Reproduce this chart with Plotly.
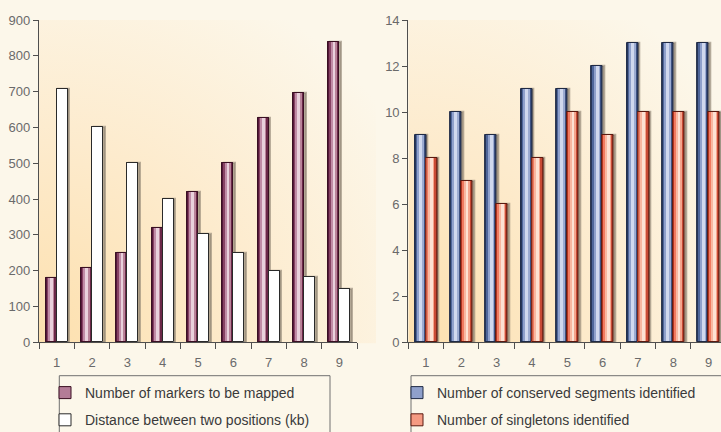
import base64
import plotly.graph_objects as go
from plotly.subplots import make_subplots

# ---- data -------------------------------------------------------------
positions = ["1", "2", "3", "4", "5", "6", "7", "8", "9"]
markers_to_map = [180, 207, 250, 318, 419, 502, 627, 696, 838]
distance_kb = [708, 600, 502, 401, 302, 250, 200, 181, 148]
conserved_segments = [9, 10, 9, 11, 11, 12, 13, 13, 13]
singletons = [8, 7, 6, 8, 10, 9, 10, 10, 10]

left_ticks = [0, 100, 200, 300, 400, 500, 600, 700, 800, 900]
right_ticks = [0, 2, 4, 6, 8, 10, 12, 14]

# ---- styling ----------------------------------------------------------
W, H = 721, 432
PAGE_BG = "#fcf7ea"
AXIS = "#4f4f4f"
TICK_FONT = dict(family="Liberation Sans, Arial, sans-serif", size=13, color="#6a6a6a")
LEG_FONT = dict(family="Liberation Sans, Arial, sans-serif", size=14, color="#3a3a3a")
BAR_W = 0.31
SHADOW = "rgba(140,128,112,0.6)"

# vertical shading bands (fraction of bar width, colour) giving a rounded look
MAROON = [(0.00, 0.12, "#55183a"), (0.12, 0.24, "#874263"), (0.24, 0.38, "#c08ca6"),
          (0.38, 0.68, "#e9d1dc"), (0.68, 0.84, "#b98399"), (0.84, 1.00, "#6b2848")]
BLUE = [(0.00, 0.12, "#2c3c63"), (0.12, 0.26, "#4f669a"), (0.26, 0.40, "#8fa0cb"),
        (0.40, 0.70, "#d0d8ee"), (0.70, 0.85, "#9cabd1"), (0.85, 1.00, "#3e5283")]
RED = [(0.00, 0.12, "#d8402a"), (0.12, 0.28, "#f07a60"), (0.28, 0.44, "#f8b7a1"),
       (0.44, 0.70, "#fde1d3"), (0.70, 0.85, "#f4a48c"), (0.85, 1.00, "#c94a35")]
WHITE = [(0.00, 1.00, "#ffffff")]

SERIES = [
    # (subplot column, name, values, side, bands, edge, legend fill, legend)
    (1, "Number of markers to be mapped", markers_to_map, "left", MAROON, "#3a0f22", "#b47c97", "legend"),
    (1, "Distance between two positions (kb)", distance_kb, "right", WHITE, "#2a2a2a", "#ffffff", "legend"),
    (2, "Number of conserved segments identified", conserved_segments, "left", BLUE, "#1f2a45", "#8fa0cb", "legend2"),
    (2, "Number of singletons identified", singletons, "right", RED, "#5a1a10", "#f59a82", "legend2"),
]


def bar_start(side):
    return -BAR_W if side == "left" else 0.0


def add_shadow(fig, col, name, y, side, legend):
    """Soft grey drop shadow up and to the right of each bar."""
    fig.add_trace(go.Bar(x=positions, y=y, name=name, width=BAR_W,
                         offset=bar_start(side) + 0.045,
                         marker=dict(color=SHADOW, line=dict(color=SHADOW, width=2.2)),
                         legend=legend, legendgroup=name, showlegend=False,
                         hoverinfo="skip"),
                  row=1, col=col)


def add_cylinder(fig, col, name, y, side, bands, edge, base_fill, legend):
    """Bar series drawn as a base bar, shaded bands on top, then an outline."""
    start = bar_start(side)
    fig.add_trace(go.Bar(x=positions, y=y, name=name, width=BAR_W, offset=start,
                         marker=dict(color=base_fill, line=dict(color=edge, width=1)),
                         legend=legend, legendgroup=name, showlegend=True),
                  row=1, col=col)
    for f0, f1, c in bands:
        fig.add_trace(go.Bar(x=positions, y=y, name=name,
                             width=BAR_W * (f1 - f0) + 0.004, offset=start + BAR_W * f0,
                             marker=dict(color=c, line=dict(width=0)),
                             legend=legend, legendgroup=name, showlegend=False,
                             hoverinfo="skip"),
                      row=1, col=col)
    fig.add_trace(go.Bar(x=positions, y=y, name=name, width=BAR_W, offset=start,
                         marker=dict(color="rgba(0,0,0,0)", line=dict(color=edge, width=1)),
                         legend=legend, legendgroup=name, showlegend=False),
                  row=1, col=col)


fig = make_subplots(rows=1, cols=2)

for col, name, vals, side, bands, edge, fill, leg in SERIES:
    add_shadow(fig, col, name, vals, side, leg)
for col, name, vals, side, bands, edge, fill, leg in SERIES:
    add_cylinder(fig, col, name, vals, side, bands, edge, fill, leg)

# plot areas in pixels
L_X0, L_X1 = 39, 357
R_X0 = 408.3
CAT_PX = (L_X1 - L_X0) / 9.0
Y_TOP, Y_BOT = 20, 342.3
ydom = [(H - Y_BOT) / H, (H - Y_TOP) / H]

xaxis_common = dict(type="category", tickson="boundaries", ticks="outside", ticklen=6,
                    tickcolor=AXIS, tickwidth=1, showline=True, linecolor=AXIS,
                    linewidth=1.2, showgrid=False, zeroline=False, tickfont=TICK_FONT,
                    ticklabelstandoff=8, fixedrange=True, automargin=False)
yaxis_common = dict(ticks="outside", ticklen=5, tickcolor=AXIS, tickwidth=1,
                    showline=True, linecolor=AXIS, linewidth=1.2, showgrid=False,
                    zeroline=False, tickfont=TICK_FONT, domain=ydom, fixedrange=True,
                    automargin=False)

right_span = (W - R_X0) / CAT_PX
fig.update_layout(
    xaxis=dict(xaxis_common, domain=[L_X0 / W, L_X1 / W], range=[-0.5, 8.5]),
    xaxis2=dict(xaxis_common, domain=[R_X0 / W, 1.0], range=[-0.5, -0.5 + right_span]),
    yaxis=dict(yaxis_common, range=[0, 900], tickvals=left_ticks),
    yaxis2=dict(yaxis_common, range=[0, 14], tickvals=right_ticks),
)

# warm radial wash behind each plot area
svg = (
    '<svg xmlns="http://www.w3.org/2000/svg" width="400" height="400" '
    'viewBox="0 0 400 400" preserveAspectRatio="none">'
    '<defs><radialGradient id="g" cx="0" cy="1" r="1.25" fx="0" fy="1">'
    '<stop offset="0" stop-color="#fde0ae"/>'
    '<stop offset="0.5" stop-color="#fdebcd"/>'
    '<stop offset="1" stop-color="' + PAGE_BG + '"/>'
    '</radialGradient></defs>'
    '<rect x="0" y="0" width="400" height="400" fill="url(#g)"/></svg>'
)
wash = "data:image/svg+xml;base64," + base64.b64encode(svg.encode()).decode()
images = []
for xr, yr, sx in (("x domain", "y domain", 1.06), ("x2 domain", "y2 domain", 1.0)):
    images.append(dict(source=wash, xref=xr, yref=yr, x=0, y=1, sizex=sx, sizey=1.0035,
                       xanchor="left", yanchor="top", sizing="stretch", layer="below"))

# legend frames (run off the bottom / right edge of the figure)
BOX = "#707070"
shapes = [
    dict(type="rect", xref="paper", yref="paper", x0=59.3 / W, x1=330 / W,
         y0=-0.1, y1=(H - 375.7) / H, line=dict(color=BOX, width=1)),
    dict(type="rect", xref="paper", yref="paper", x0=411 / W, x1=1.1,
         y0=-0.1, y1=(H - 375.7) / H, line=dict(color=BOX, width=1)),
]

legend_common = dict(font=LEG_FONT, bgcolor="rgba(0,0,0,0)", borderwidth=0,
                     xanchor="left", yanchor="top", traceorder="grouped",
                     tracegroupgap=6, itemclick=False, itemdoubleclick=False)

LEG_TOP = 377.0
fig.update_layout(
    width=W, height=H, autosize=False,
    margin=dict(l=0, r=0, t=0, b=0, autoexpand=False),
    paper_bgcolor=PAGE_BG, plot_bgcolor="rgba(0,0,0,0)",
    barmode="overlay", bargap=0,
    images=images, shapes=shapes,
    legend=dict(legend_common, x=45 / W, y=(H - LEG_TOP) / H),
    legend2=dict(legend_common, x=397 / W, y=(H - LEG_TOP) / H),
    hovermode="closest",
)

fig.write_html("out.html", config={"displayModeBar": False})
